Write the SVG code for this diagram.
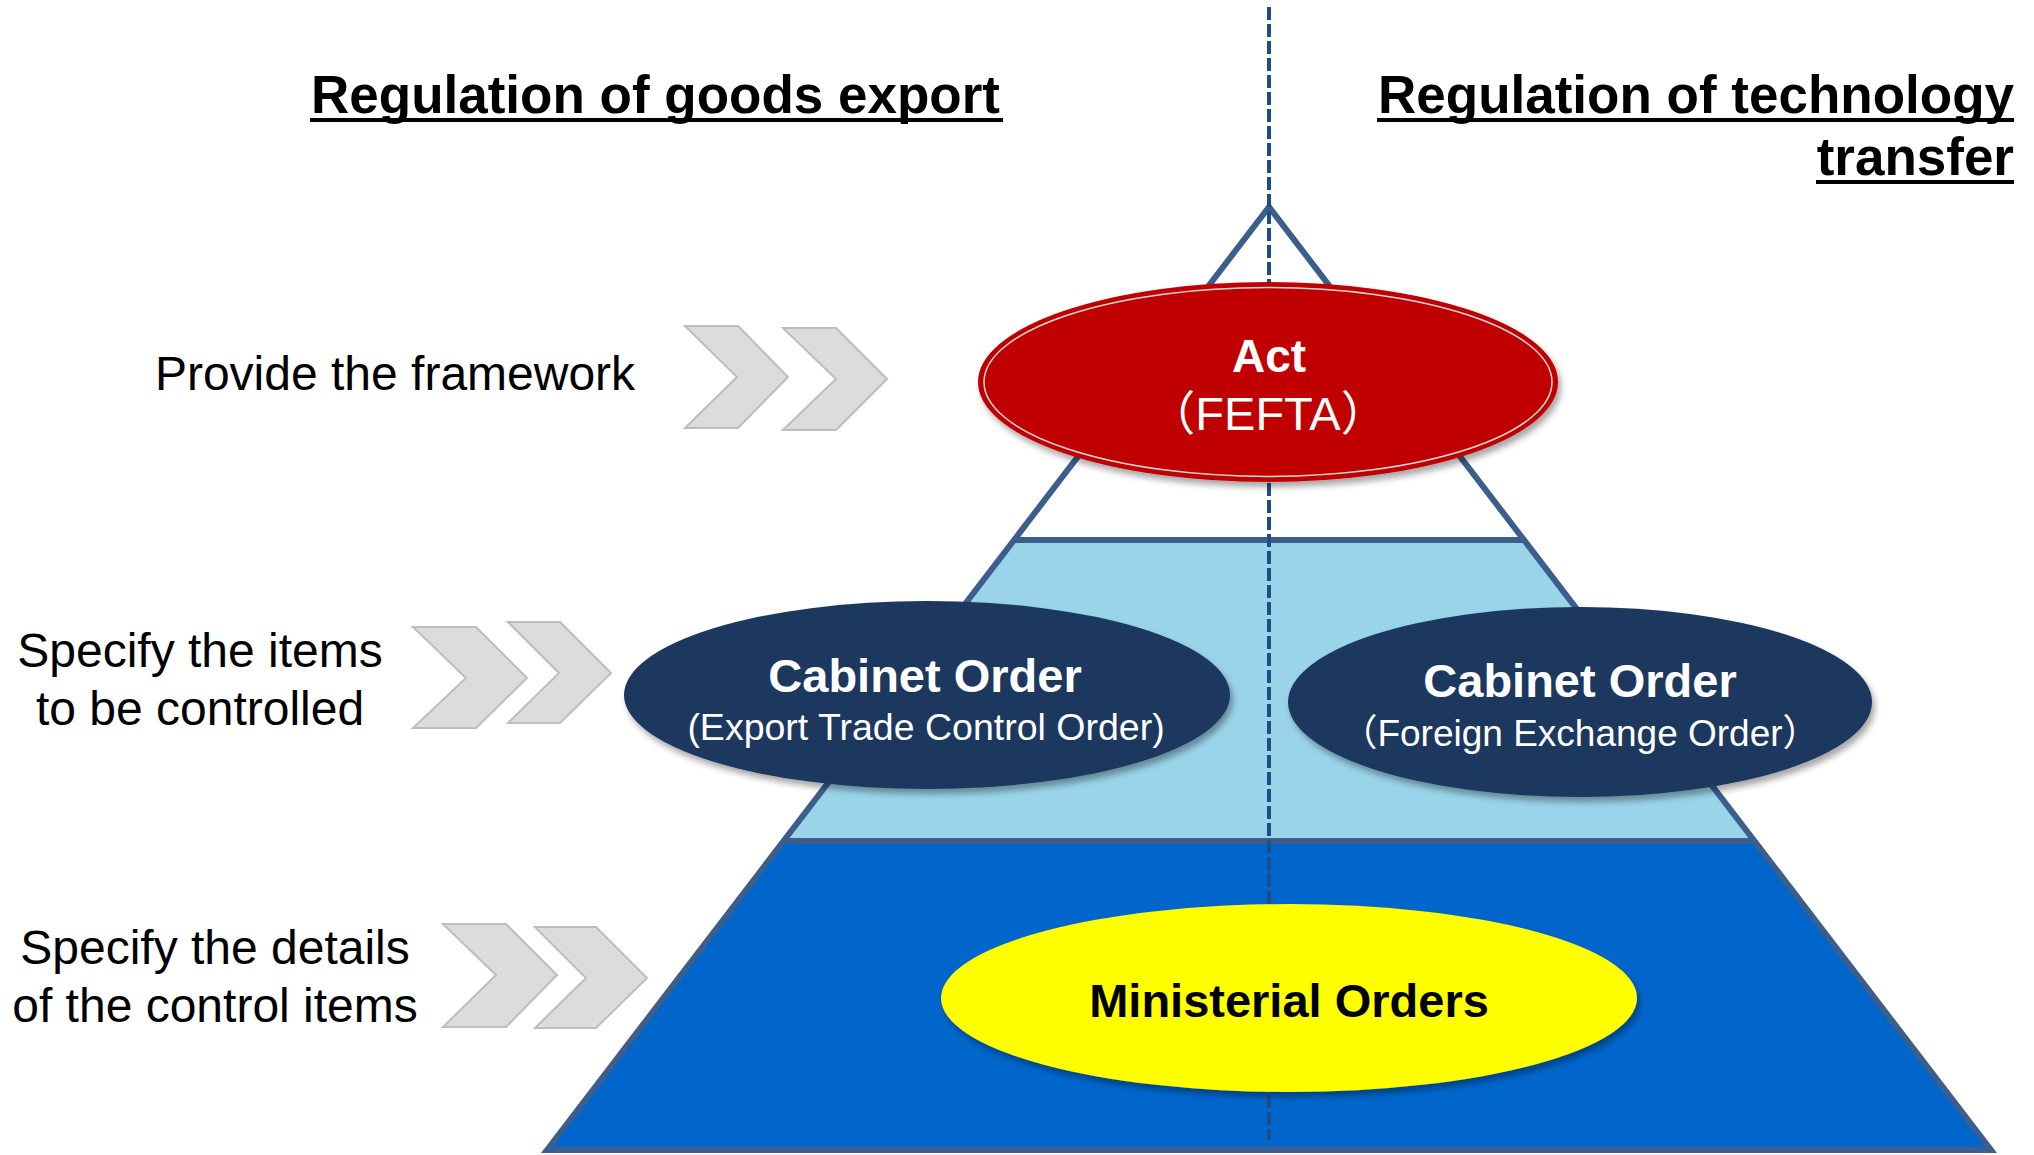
<svg xmlns="http://www.w3.org/2000/svg" width="2034" height="1155" viewBox="0 0 2034 1155">
  <defs>
    <filter id="shadow" x="-10%" y="-20%" width="120%" height="150%">
      <feDropShadow dx="3" dy="5" stdDeviation="3" flood-color="#000" flood-opacity="0.35"/>
    </filter>
    <style>
      .title { font-family: "Liberation Sans", Arial, sans-serif; font-weight: bold; font-size: 53px; fill: #000; }
      .uline { stroke: #000; stroke-width: 4; }
      .label { font-family: "Liberation Sans", Arial, sans-serif; font-size: 48px; fill: #000; text-anchor: middle; }
      .chev { fill: #DCDCDC; stroke: #BDBDBD; stroke-width: 2; stroke-linejoin: miter; }
      .edge { fill: none; stroke: #3B5E8C; stroke-width: 6; stroke-linejoin: miter; }
      .bold { font-family: "Liberation Sans", Arial, sans-serif; font-weight: bold; text-anchor: middle; }
      .reg { font-family: "Liberation Sans", Arial, "Noto Sans CJK JP", sans-serif; text-anchor: middle; }
      .navy { fill: #1B375F; filter: url(#shadow); }
    </style>
  </defs>

  <!-- Titles -->
  <g id="title-goods">
    <text class="title" x="311" y="113">Regulation of goods export</text>
    <line class="uline" x1="310" y1="120" x2="1003" y2="120"/>
  </g>
  <g id="title-tech">
    <text class="title" x="2014" y="113" text-anchor="end">Regulation of technology</text>
    <line class="uline" x1="1377" y1="120" x2="2014" y2="120"/>
    <text class="title" x="2014" y="175" text-anchor="end">transfer</text>
    <line class="uline" x1="1816" y1="182" x2="2014" y2="182"/>
  </g>

  <!-- Pyramid -->
  <g id="pyramid">
    <polygon points="1014,540 1524,540 1754,841 784,841" fill="#9AD4EA"/>
    <polygon points="784,841 1754,841 1991,1150 547,1150" fill="#0066CC"/>
    <path class="edge" d="M547,1150 L1269,207 L1991,1150 Z"/>
    <line class="edge" x1="1014" y1="540" x2="1524" y2="540"/>
    <line class="edge" x1="784" y1="841" x2="1754" y2="841"/>
  </g>

  <!-- Divider -->
  <g id="connectors">
    <line x1="1269" y1="7" x2="1269" y2="1140" stroke="#1F4E85" stroke-width="4" stroke-dasharray="13 4"/>
  </g>

  <!-- Act -->
  <g id="node-act">
    <ellipse cx="1268" cy="382" rx="289" ry="99" fill="#C00000" stroke="#C00000" stroke-width="2" filter="url(#shadow)"/>
    <ellipse cx="1268" cy="382" rx="284" ry="94.5" fill="none" stroke="#D9D9D9" stroke-width="1.5"/>
    <text class="bold" x="1269" y="372" font-size="46" fill="#FFFFFF">Act</text>
    <text class="reg" x="1268" y="430" font-size="47" fill="#FFFFFF">（FEFTA）</text>
  </g>

  <!-- Cabinet Order (Export Trade Control Order) -->
  <g id="node-cabinet-export">
    <ellipse class="navy" cx="927" cy="695" rx="303" ry="94"/>
    <text class="bold" x="925" y="692" font-size="47" fill="#FFFFFF">Cabinet Order</text>
    <text class="reg" x="926" y="740" font-size="37.5" fill="#FFFFFF">(Export Trade Control Order)</text>
  </g>

  <!-- Cabinet Order (Foreign Exchange Order) -->
  <g id="node-cabinet-forex">
    <ellipse class="navy" cx="1580" cy="702" rx="292" ry="95"/>
    <text class="bold" x="1580" y="697" font-size="47" fill="#FFFFFF">Cabinet Order</text>
    <text class="reg" x="1580" y="746" font-size="37" fill="#FFFFFF">（Foreign Exchange Order）</text>
  </g>

  <!-- Ministerial Orders -->
  <g id="node-ministerial">
    <ellipse cx="1289" cy="998" rx="348" ry="94" fill="#FFFF00" filter="url(#shadow)"/>
    <text class="bold" x="1289" y="1017" font-size="47" fill="#000000">Ministerial Orders</text>
  </g>

  <!-- Row labels and chevrons -->
  <g id="label-framework">
    <text class="label" x="395" y="390">Provide the framework</text>
  </g>
  <g id="chevrons-framework">
    <polygon class="chev" points="685,326 738,326 788,377 738,428 685,428 737,377"/>
    <polygon class="chev" points="783,328 836,328 887,379 836,430 783,430 836,379"/>
  </g>

  <g id="label-items">
    <text class="label" x="200" y="667">Specify the items</text>
    <text class="label" x="200" y="725">to be controlled</text>
  </g>
  <g id="chevrons-items">
    <polygon class="chev" points="413,627 476,627 527,678 476,728 413,728 466,678"/>
    <polygon class="chev" points="508,622 560,622 611,673 560,723 508,723 559,673"/>
  </g>

  <g id="label-details">
    <text class="label" x="215" y="964">Specify the details</text>
    <text class="label" x="215" y="1022">of the control items</text>
  </g>
  <g id="chevrons-details">
    <polygon class="chev" points="443,924 506,924 557,975 506,1027 443,1027 496,975"/>
    <polygon class="chev" points="535,927 596,927 647,978 596,1028 535,1028 586,978"/>
  </g>
</svg>
